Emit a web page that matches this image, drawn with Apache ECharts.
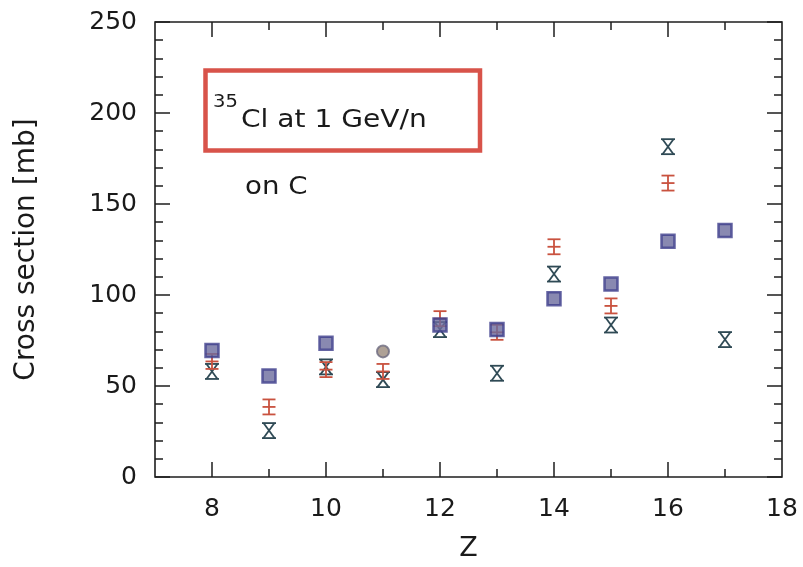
<!DOCTYPE html>
<html>
<head>
<meta charset="utf-8">
<script src="https://cdn.jsdelivr.net/npm/echarts@6/dist/echarts.min.js"></script>
<style>
html,body{margin:0;padding:0;background:#fff;}
#chart{width:803px;height:567px;}
</style>
</head>
<body>
<div id="chart"></div>
<script>
// Data
var zValues = [8, 9, 10, 11, 12, 13, 14, 15, 16, 17];
var squareValues = [69.5, 55.5, 73.5, null, 83.5, 81, 98, 106, 129.5, 135.5];
var circleValues = [null, null, null, 69, null, null, null, null, null, null];
var redValues = [63.5, 38.5, 59, 58, 87, 79.5, 126.5, 94, 161.5, null];
var crossValues = [58, 25.5, 60.5, 53.5, 81, 57, 111.5, 83.5, 181.5, 75.5];
var xMajorTicks = [8, 10, 12, 14, 16, 18];
var xMinorTicks = [9, 11, 13, 15, 17];
var yTickLabels = [0, 50, 100, 150, 200, 250];

function pairs(vals) {
  var out = [];
  for (var i = 0; i < zValues.length; i++) {
    if (vals[i] !== null) out.push([zValues[i], vals[i]]);
  }
  return out;
}

var FONT = 'DejaVu Sans';
var AXIS_COLOR = '#1e1e1e';

function redMarker(params, api) {
  var p = api.coord([api.value(0), api.value(1)]);
  var w = 6.5, h = 7.5;
  var st = { stroke: '#c9523f', lineWidth: 1.8 };
  return {
    type: 'group',
    children: [
      { type: 'line', shape: { x1: p[0] - w, y1: p[1] - h, x2: p[0] + w, y2: p[1] - h }, style: st },
      { type: 'line', shape: { x1: p[0] - w, y1: p[1], x2: p[0] + w, y2: p[1] }, style: st },
      { type: 'line', shape: { x1: p[0] - w, y1: p[1] + h, x2: p[0] + w, y2: p[1] + h }, style: st },
      { type: 'line', shape: { x1: p[0], y1: p[1] - h, x2: p[0], y2: p[1] + h }, style: st }
    ]
  };
}

function crossMarker(params, api) {
  var p = api.coord([api.value(0), api.value(1)]);
  var w = 7, h = 7.5;
  var st = { stroke: '#2f4a55', lineWidth: 1.8 };
  return {
    type: 'group',
    children: [
      { type: 'line', shape: { x1: p[0] - w, y1: p[1] - h, x2: p[0] + w, y2: p[1] - h }, style: st },
      { type: 'line', shape: { x1: p[0] - w, y1: p[1] + h, x2: p[0] + w, y2: p[1] + h }, style: st },
      { type: 'line', shape: { x1: p[0] - w + 1.5, y1: p[1] - h, x2: p[0] + w - 1.5, y2: p[1] + h }, style: st },
      { type: 'line', shape: { x1: p[0] + w - 1.5, y1: p[1] - h, x2: p[0] - w + 1.5, y2: p[1] + h }, style: st }
    ]
  };
}

function xAxisDef(pos, ticks, len, labels) {
  return {
    type: 'value', position: pos, min: 7, max: 18, gridIndex: 0,
    axisLine: { show: false },
    splitLine: { show: false },
    axisTick: { show: true, inside: true, length: len, customValues: ticks,
      lineStyle: { color: AXIS_COLOR, width: 1.5 } },
    axisLabel: labels ? { show: true, customValues: xMajorTicks, margin: 20,
      fontFamily: FONT, fontSize: 25, color: '#1a1a1a' } : { show: false }
  };
}

function yAxisDef(pos, labels) {
  return {
    type: 'value', position: pos, min: 0, max: 250, interval: 50,
    axisLine: { show: false },
    splitLine: { show: false },
    axisTick: { show: true, inside: true, length: 15, lineStyle: { color: AXIS_COLOR, width: 1.5 } },
    minorTick: { show: true, splitNumber: 5, length: 8, lineStyle: { color: AXIS_COLOR, width: 1.5 } },
    minorSplitLine: { show: false },
    axisLabel: labels ? { show: true, margin: 18, fontFamily: FONT, fontSize: 25, color: '#1a1a1a',
      formatter: function (v) { return yTickLabels.indexOf(v) >= 0 ? String(v) : ''; } } : { show: false }
  };
}

var xa0 = xAxisDef('bottom', xMajorTicks.slice(0, 5), 15, true);
xa0.name = 'Z';
xa0.nameLocation = 'middle';
xa0.nameGap = 58;
xa0.nameTextStyle = { fontFamily: FONT, fontSize: 27, color: '#1a1a1a' };

var ya0 = yAxisDef('left', true);
ya0.name = 'Cross section [mb]';
ya0.nameLocation = 'middle';
ya0.nameGap = 114;
ya0.nameTextStyle = { fontFamily: FONT, fontSize: 28, color: '#1a1a1a' };

var chart = echarts.init(document.getElementById('chart'), null, { renderer: 'canvas' });
chart.setOption({
  animation: false,
  backgroundColor: '#ffffff',
  grid: { left: 155, right: 21, top: 22, bottom: 90, show: true,
    borderColor: AXIS_COLOR, borderWidth: 1.6, backgroundColor: 'transparent' },
  xAxis: [
    xa0,
    xAxisDef('bottom', xMinorTicks, 8, false),
    xAxisDef('top', xMajorTicks.slice(0, 5), 15, false),
    xAxisDef('top', xMinorTicks, 8, false)
  ],
  yAxis: [ya0, yAxisDef('right', false)],
  graphic: [
    { type: 'rect', shape: { x: 205.5, y: 70.5, width: 274.5, height: 80 },
      style: { fill: 'none', stroke: '#d8534a', lineWidth: 4.5 }, z: 10 },
    { type: 'text', x: 213, y: 103, scaleX: 1.15, z: 11,
      style: { text: '35', fontFamily: FONT, fontSize: 17, fill: '#1a1a1a', verticalAlign: 'middle', align: 'left' } },
    { type: 'text', x: 241, y: 121, scaleX: 1.17, z: 11,
      style: { text: 'Cl at 1 GeV/n', fontFamily: FONT, fontSize: 24, fill: '#1a1a1a', verticalAlign: 'middle', align: 'left' } },
    { type: 'text', x: 245, y: 188, scaleX: 1.15, z: 11,
      style: { text: 'on C', fontFamily: FONT, fontSize: 24, fill: '#1a1a1a', verticalAlign: 'middle', align: 'left' } }
  ],
  series: [
    { type: 'custom', xAxisIndex: 0, yAxisIndex: 0, data: pairs(crossValues), renderItem: crossMarker, z: 3 },
    { type: 'custom', xAxisIndex: 0, yAxisIndex: 0, data: pairs(redValues), renderItem: redMarker, z: 4 },
    { type: 'scatter', xAxisIndex: 0, yAxisIndex: 0, data: pairs(squareValues), symbol: 'rect', symbolSize: 13,
      itemStyle: { color: '#6c6c9e', borderColor: '#3f3f8c', borderWidth: 2.5 }, z: 5 },
    { type: 'scatter', xAxisIndex: 0, yAxisIndex: 0, data: pairs(circleValues), symbol: 'circle', symbolSize: 12,
      itemStyle: { color: '#9a8a7c', borderColor: '#6d6a80', borderWidth: 2 }, z: 5 }
  ]
});
</script>
</body>
</html>
